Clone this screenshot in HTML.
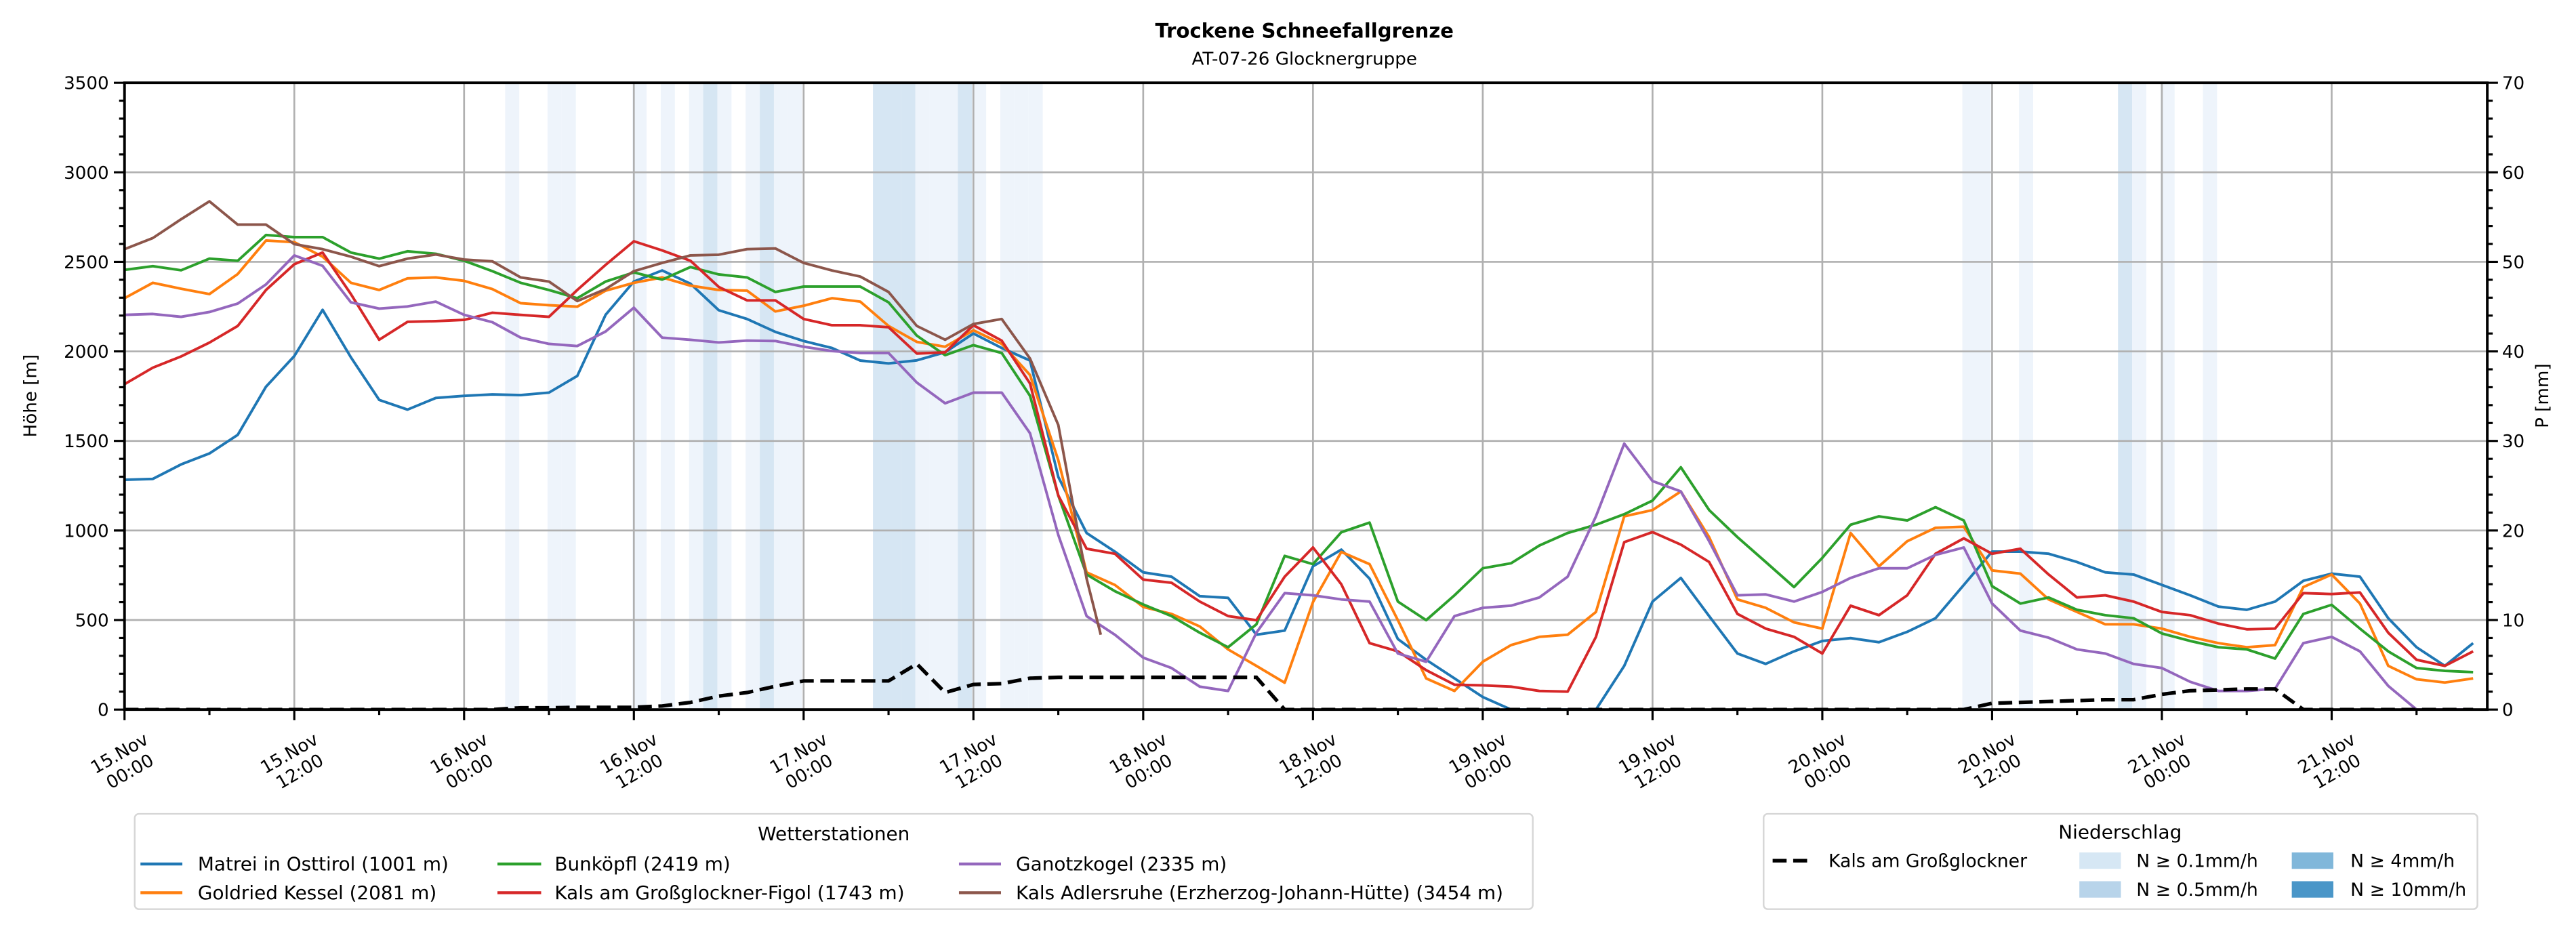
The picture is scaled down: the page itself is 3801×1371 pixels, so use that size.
<!DOCTYPE html>
<html><head><meta charset="utf-8"><title>Trockene Schneefallgrenze</title>
<style>
html,body{margin:0;padding:0;background:#fff;}
svg{display:block;font-family:"DejaVu Sans","Liberation Sans",sans-serif;}
</style></head>
<body>
<svg id="chart" xmlns="http://www.w3.org/2000/svg" width="3801" height="1371" viewBox="0 0 1568 565.6" preserveAspectRatio="none">
<rect x="0" y="0" width="1568" height="565.6" fill="#fff"/>
<g id="bands"></g>
<g id="grid"></g>
<g id="series" clip-path="url(#clip)"></g>
<defs><clipPath id="clip"><rect x="75.8" y="50.4" width="1438.2" height="381.6"/></clipPath></defs>
<g id="axes"></g>
<text x="794" y="23" text-anchor="middle" font-size="12" font-weight="bold">Trockene Schneefallgrenze</text>
<text x="794" y="39.5" text-anchor="middle" font-size="10.8">AT-07-26 Glocknergruppe</text>
<text transform="translate(22,241) rotate(-90)" text-anchor="middle" font-size="10.8">Höhe [m]</text>
<text transform="translate(1551,241) rotate(-90)" text-anchor="middle" font-size="10.8">P [mm]</text>

<g>
<rect x="82" y="495.5" width="851" height="58" rx="2.5" fill="#fff" stroke="#d6d6d6" stroke-width="1"/>
<text x="507.5" y="511.5" text-anchor="middle" font-size="11.5">Wetterstationen</text>
<g font-size="11.5">
<line x1="85.5" y1="526" x2="111" y2="526" stroke="#1f77b4" stroke-width="1.8"/><text x="120.4" y="530">Matrei in Osttirol (1001 m)</text>
<line x1="85.5" y1="543.5" x2="111" y2="543.5" stroke="#ff7f0e" stroke-width="1.8"/><text x="120.4" y="547.5">Goldried Kessel (2081 m)</text>
<line x1="302.8" y1="526" x2="329.4" y2="526" stroke="#2ca02c" stroke-width="1.8"/><text x="337.6" y="530">Bunköpfl (2419 m)</text>
<line x1="302.8" y1="543.5" x2="329.4" y2="543.5" stroke="#d62728" stroke-width="1.8"/><text x="337.6" y="547.5">Kals am Großglockner-Figol (1743 m)</text>
<line x1="583.7" y1="526" x2="609.3" y2="526" stroke="#9467bd" stroke-width="1.8"/><text x="618.4" y="530">Ganotzkogel (2335 m)</text>
<line x1="583.7" y1="543.5" x2="609.3" y2="543.5" stroke="#8c564b" stroke-width="1.8"/><text x="618.4" y="547.5">Kals Adlersruhe (Erzherzog-Johann-Hütte) (3454 m)</text>
</g></g>

<g>
<rect x="1073.5" y="495.5" width="434.5" height="58" rx="2.5" fill="#fff" stroke="#d6d6d6" stroke-width="1"/>
<text x="1290.5" y="510.5" text-anchor="middle" font-size="11.5">Niederschlag</text>
<g font-size="11">
<line x1="1079" y1="524" x2="1101.5" y2="524" stroke="#000" stroke-width="2.2" stroke-dasharray="8.5 4"/><text x="1113" y="527.8">Kals am Großglockner</text>
<rect x="1265.7" y="519" width="25.3" height="10" fill="#d6e7f4"/><text x="1300.4" y="527.8">N ≥ 0.1mm/h</text>
<rect x="1265.7" y="536.5" width="25.3" height="10" fill="#b8d4ea"/><text x="1300.4" y="545.3">N ≥ 0.5mm/h</text>
<rect x="1395" y="519" width="25.3" height="10" fill="#80b7da"/><text x="1430.7" y="527.8">N ≥ 4mm/h</text>
<rect x="1395" y="536.5" width="25.3" height="10" fill="#4a96c8"/><text x="1430.7" y="545.3">N ≥ 10mm/h</text>
</g></g>
</svg>
<script>
const hours = Array.from({length: 84}, (_, i) => i * 2);
const matrei = [1283,1288,1369,1430,1534,1803,1974,2232,1967,1729,1675,1740,1752,1760,1756,1770,1863,2204,2390,2452,2378,2230,2181,2109,2058,2019,1949,1933,1950,1995,2100,2019,1949,1299,986,882,766,742,633,624,418,441,800,893,731,394,278,174,70,0,0,0,0,244,603,735,522,313,255,325,383,399,376,434,510,696,882,882,870,824,766,754,696,638,575,557,603,719,759,742,510,348,244,371];
const goldried = [2297,2383,2350,2320,2432,2619,2610,2529,2383,2343,2408,2413,2394,2348,2269,2258,2250,2339,2383,2413,2367,2343,2339,2223,2255,2297,2278,2142,2053,2026,2118,2042,1868,1392,766,696,573,534,464,336,244,150,600,880,812,499,174,104,267,360,406,418,545,1079,1114,1218,963,615,568,487,452,986,800,940,1015,1021,777,759,615,545,476,476,452,406,371,348,360,684,754,592,244,169,151,174];
const bunkoepfl = [2455,2476,2453,2518,2506,2650,2638,2638,2552,2518,2559,2545,2506,2448,2383,2343,2297,2390,2441,2401,2471,2430,2413,2332,2362,2362,2362,2274,2088,1979,2035,1991,1752,1195,754,661,587,522,429,348,476,858,812,990,1044,603,499,638,789,817,916,986,1032,1091,1167,1353,1114,963,824,684,847,1032,1079,1056,1130,1056,689,592,626,557,527,510,425,383,348,336,285,534,585,452,325,232,216,209];
const kalsFigol = [1817,1909,1972,2049,2142,2343,2487,2552,2320,2065,2165,2169,2176,2216,2204,2193,2343,2483,2615,2564,2506,2360,2285,2285,2181,2146,2146,2135,1988,1995,2146,2060,1821,1195,898,870,726,708,603,522,499,742,905,700,371,325,220,139,135,128,104,100,406,935,991,921,824,534,452,406,313,580,527,638,870,956,870,898,754,626,638,603,545,527,480,448,452,650,645,654,429,278,244,325];
const ganotzkogel = [2204,2209,2193,2220,2267,2374,2536,2478,2274,2239,2251,2278,2204,2163,2077,2042,2030,2111,2244,2077,2065,2050,2060,2058,2026,2002,1991,1991,1826,1710,1770,1770,1543,975,522,418,290,232,128,104,429,650,638,615,603,313,267,522,568,580,626,742,1079,1485,1276,1218,940,638,643,603,657,735,789,789,864,905,592,441,401,336,313,255,232,155,104,104,116,371,406,325,132,0,0,0];
const adlersruheHours = [0,2,4,6,8,10,12,14,16,18,20,22,24,26,28,30,32,34,36,38,40,42,44,46,48,50,52,54,56,58,60,62,64,66,68,69];
const adlersruhe = [2571,2633,2738,2838,2708,2708,2599,2571,2529,2476,2518,2541,2513,2503,2413,2390,2281,2348,2448,2494,2536,2540,2571,2575,2494,2452,2418,2332,2142,2065,2153,2181,1960,1589,731,418];
const precipMm = [0,0,0,0,0,0,0,0,0,0,0,0,0,0,0.2,0.2,0.25,0.25,0.25,0.4,0.8,1.5,1.9,2.6,3.2,3.2,3.2,3.2,5.1,1.9,2.8,2.9,3.5,3.6,3.6,3.6,3.6,3.6,3.6,3.6,3.6,0,0,0,0,0,0,0,0,0,0,0,0,0,0,0,0,0,0,0,0,0,0,0,0,0,0.7,0.8,0.9,1.0,1.1,1.1,1.7,2.1,2.2,2.3,2.3,0,0,0,0,0,0,0];
const bandHours = [27,30,31,36,38,40,41,42,44,45,46,47,53,54,55,56,57,58,59,60,62,63,64,130,131,134,141,142,144,147];
const bandLevels = [1,1,1,1,1,1,2,1,1,2,1,1,2,2,2,1,1,1,2,1,1,1,1,1,1,1,2,1,1,1];
const yTicks = [0,500,1000,1500,2000,2500,3000,3500];
const y2Ticks = [0,10,20,30,40,50,60,70];
const xTickHours = [0,12,24,36,48,60,72,84,96,108,120,132,144,156];
const xTickDays = ["15.Nov","15.Nov","16.Nov","16.Nov","17.Nov","17.Nov","18.Nov","18.Nov","19.Nov","19.Nov","20.Nov","20.Nov","21.Nov","21.Nov"];
const xTickTimes = ["00:00","12:00","00:00","12:00","00:00","12:00","00:00","12:00","00:00","12:00","00:00","12:00","00:00","12:00"];

const L=75.8, R=1514, T=50.4, B=432;
const X = h => L + h/167*(R-L);
const Y = v => B - v/3500*(B-T);
const Y2 = p => B - p/70*(B-T);
const NS = "http://www.w3.org/2000/svg";
function mk(tag, parent, attrs){const e=document.createElementNS(NS,tag);for(const k in attrs)e.setAttribute(k,attrs[k]);parent.appendChild(e);return e;}

const gB=document.getElementById('bands'), gG=document.getElementById('grid'), gS=document.getElementById('series'), gA=document.getElementById('axes');
const bandColors={1:"#eef4fb",2:"#d6e6f3",3:"#80b7da",4:"#4a96c8"};
bandHours.forEach((h,i)=>{
  const r=mk('rect',gB,{x:X(h-0.1),y:T,width:X(h+0.9)-X(h-0.1),height:B-T,fill:bandColors[bandLevels[i]]});
  
  
});
yTicks.forEach(v=>{
  const l=mk('line',gG,{x1:L,x2:R,y1:Y(v),y2:Y(v),stroke:"#b0b0b0","stroke-width":1.1});
  
  
});
xTickHours.forEach(h=>{
  const l=mk('line',gG,{x1:X(h),x2:X(h),y1:T,y2:B,stroke:"#b0b0b0","stroke-width":1.1});
  
  
});
function path(xs, ys, color, name){
  let d="";
  xs.forEach((h,i)=>{ if(ys[i]==null) return; d+=(d?"L":"M")+X(h).toFixed(2)+","+Y(ys[i]).toFixed(2); });
  const p=mk('path',gS,{d:d,fill:"none",stroke:color,"stroke-width":1.6,"stroke-linejoin":"round"});
  
  
}
path(hours,matrei,"#1f77b4","line-matrei");
path(hours,goldried,"#ff7f0e","line-goldried");
path(hours,bunkoepfl,"#2ca02c","line-bunkoepfl");
path(hours,kalsFigol,"#d62728","line-kals-figol");
path(hours,ganotzkogel,"#9467bd","line-ganotzkogel");
path(adlersruheHours,adlersruhe,"#8c564b","line-adlersruhe");
let dp="";
hours.forEach((h,i)=>{ dp+=(i?"L":"M")+X(h).toFixed(2)+","+Y2(precipMm[i]).toFixed(2); });
const pp=mk('path',gS,{d:dp,fill:"none",stroke:"#000","stroke-width":2.2,"stroke-dasharray":"8.5 4"});



const sp=mk('rect',gA,{x:L,y:T,width:R-L,height:B-T,fill:"none",stroke:"#000","stroke-width":1.6});


for(let v=0; v<=3500; v+=100){
  const major = v%500===0;
  const t=mk('line',gA,{x1:L-(major?6.5:3.3),x2:L,y1:Y(v),y2:Y(v),stroke:"#000","stroke-width":1.3});
  
  
}
yTicks.forEach(v=>{
  const t=mk('text',gA,{x:L-9.5,y:Y(v)+3.9,"text-anchor":"end","font-size":10.8});
  t.textContent=v;
  
  
});
for(let p=0; p<=70; p+=2){
  const major = p%10===0;
  const t=mk('line',gA,{x1:R,x2:R+(major?6.5:3.3),y1:Y2(p),y2:Y2(p),stroke:"#000","stroke-width":1.3});
  
  
}
y2Ticks.forEach(p=>{
  const t=mk('text',gA,{x:R+9,y:Y2(p)+3.9,"text-anchor":"start","font-size":10.8});
  t.textContent=p;
  
  
});
for(let h=0; h<=166; h+=6){
  const major = h%12===0;
  const t=mk('line',gA,{x1:X(h),x2:X(h),y1:B,y2:B+(major?6.5:3.3),stroke:"#000","stroke-width":1.3});
  
  
}
xTickHours.forEach((h,i)=>{
  const g=mk('g',gA,{transform:`translate(${X(h).toFixed(2)},464) rotate(-30)`,"font-size":10.8,"text-anchor":"middle"});
  
  
  const a=mk('text',g,{x:0,y:-2.5}); a.textContent=xTickDays[i];
  const b=mk('text',g,{x:0,y:10.2}); b.textContent=xTickTimes[i];
});
</script>
</body></html>
